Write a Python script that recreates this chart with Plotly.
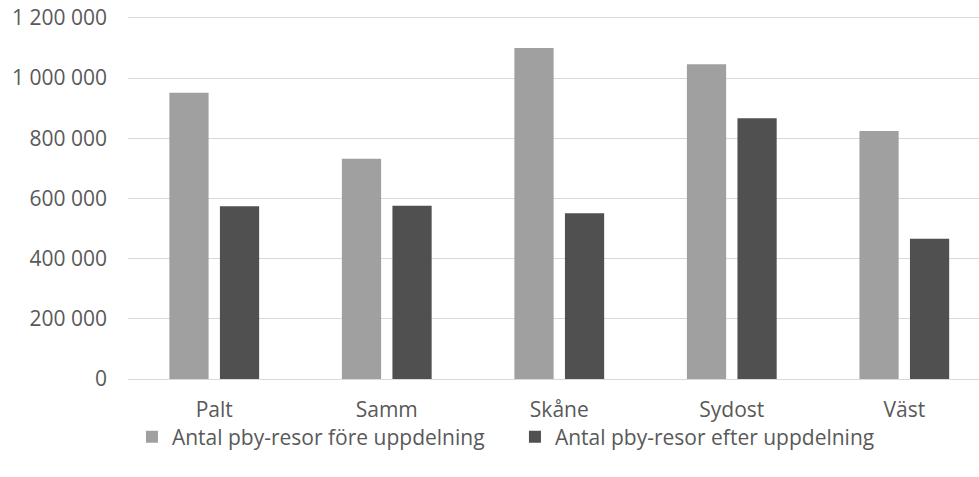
import plotly.graph_objects as go

categories = ["Palt", "Samm", "Skåne", "Sydost", "Väst"]
fore = [951000, 732000, 1100000, 1046000, 824000]
efter = [574000, 576000, 551000, 866000, 466000]
series_names = ["Antal pby-resor före uppdelning", "Antal pby-resor efter uppdelning"]

FONT = "Open Sans"
TXT = "#595959"

fig = go.Figure()
fig.add_trace(go.Bar(x=categories, y=fore, name=series_names[0],
                     marker=dict(color="#A0A0A0", line=dict(width=0))))
fig.add_trace(go.Bar(x=categories, y=efter, name=series_names[1],
                     marker=dict(color="#505050", line=dict(width=0))))

fig.update_layout(
    width=979, height=477,
    margin=dict(l=128, r=0, t=16, b=98, pad=0, autoexpand=False),
    paper_bgcolor="white", plot_bgcolor="white",
    barmode="group", bargap=0.414, bargroupgap=0.224,
    separators=", ",
    font=dict(family=FONT, size=21, color=TXT),
    showlegend=True,
    legend=dict(orientation="h", x=0.4547, xanchor="center",
                y=-0.16, yanchor="middle",
                font=dict(family=FONT, size=21, color=TXT),
                entrywidth=338, entrywidthmode="pixels", itemwidth=30,
                bgcolor="rgba(0,0,0,0)"),
)
fig.update_xaxes(range=[-0.5, 4.433], showgrid=False, showline=True, automargin=False,
                 linecolor="#D9D9D9", linewidth=1, ticks="",
                 ticklabelstandoff=12, tickfont=dict(family=FONT, size=21, color=TXT))
fig.update_yaxes(range=[0, 1206000], dtick=200000, tick0=0, tickformat=",d",
                 showgrid=True, gridcolor="#D9D9D9", gridwidth=1, automargin=False,
                 zeroline=False, showline=False, ticks="", ticklabeloverflow="allow",
                 ticklabelstandoff=20, tickfont=dict(family=FONT, size=21, color=TXT))

fig.write_html("out.html", config={"displayModeBar": False},
               post_script="document.body.style.margin='0';document.body.style.overflow='hidden';")
